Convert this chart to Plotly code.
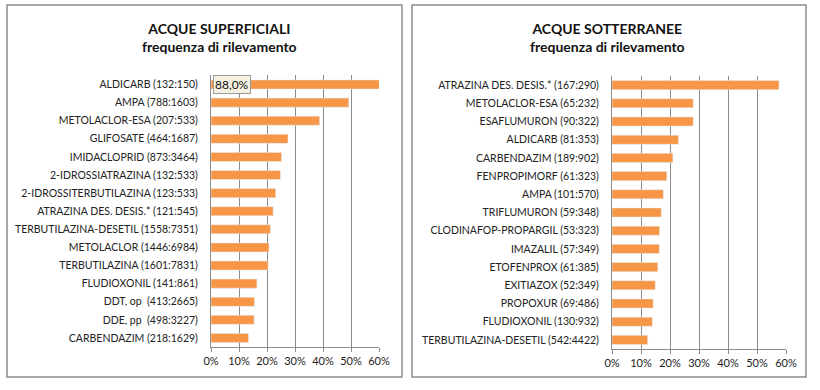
import plotly.graph_objects as go

# ---- data ----
sup_labels = [
    "ALDICARB (132:150)", "AMPA (788:1603)", "METOLACLOR-ESA (207:533)",
    "GLIFOSATE (464:1687)", "IMIDACLOPRID (873:3464)", "2-IDROSSIATRAZINA (132:533)",
    "2-IDROSSITERBUTILAZINA (123:533)", "ATRAZINA DES. DESIS.* (121:545)",
    "TERBUTILAZINA-DESETIL (1558:7351)", "METOLACLOR (1446:6984)",
    "TERBUTILAZINA (1601:7831)", "FLUDIOXONIL (141:861)", "DDT, op  (413:2665)",
    "DDE, pp  (498:3227)", "CARBENDAZIM (218:1629)",
]
sup_values = [0.880, 0.492, 0.388, 0.275, 0.252, 0.248, 0.231, 0.222,
              0.212, 0.207, 0.204, 0.164, 0.155, 0.154, 0.134]

sot_labels = [
    "ATRAZINA DES. DESIS.* (167:290)", "METOLACLOR-ESA (65:232)", "ESAFLUMURON (90:322)",
    "ALDICARB (81:353)", "CARBENDAZIM (189:902)", "FENPROPIMORF (61:323)",
    "AMPA (101:570)", "TRIFLUMURON (59:348)", "CLODINAFOP-PROPARGIL (53:323)",
    "IMAZALIL (57:349)", "ETOFENPROX (61:385)", "EXITIAZOX (52:349)",
    "PROPOXUR (69:486)", "FLUDIOXONIL (130:932)", "TERBUTILAZINA-DESETIL (542:4422)",
]
sot_values = [0.576, 0.280, 0.280, 0.229, 0.210, 0.189, 0.177, 0.170,
              0.164, 0.163, 0.158, 0.149, 0.142, 0.139, 0.123]

x_ticks = [0, 0.1, 0.2, 0.3, 0.4, 0.5, 0.6]
x_tick_text = ["0%", "10%", "20%", "30%", "40%", "50%", "60%"]

titles = ["ACQUE SUPERFICIALI<br>frequenza di rilevamento",
          "ACQUE SOTTERRANEE<br>frequenza di rilevamento"]

BAR = "#F79646"
FONT = "Lato"
W, H = 820, 390

fig = go.Figure()
fig.add_trace(go.Bar(x=sup_values, y=sup_labels, orientation="h", marker_color=BAR,
                     xaxis="x", yaxis="y", width=0.5, hoverinfo="x+y"))
fig.add_trace(go.Bar(x=sot_values, y=sot_labels, orientation="h", marker_color=BAR,
                     xaxis="x2", yaxis="y2", width=0.5, hoverinfo="x+y"))

def px_x(v):
    return v / W

def px_y(v):
    return 1 - v / H

xcommon = dict(range=[0, 0.6], tickvals=x_ticks, ticktext=x_tick_text,
               showgrid=True, gridcolor="#8c8c8c", gridwidth=1,
               showline=True, linecolor="#8c8c8c", linewidth=1,
               ticks="outside", ticklen=4, tickcolor="#8c8c8c",
               tickfont=dict(family=FONT, size=11, color="#222"),
               zeroline=False, fixedrange=True, automargin=False)
ycommon = dict(autorange="reversed", showgrid=False, showline=True,
               linecolor="#8c8c8c", linewidth=1, ticks="",
               tickfont=dict(family=FONT, size=10.5, color="#222"),
               ticklabelstandoff=10, fixedrange=True, automargin=False)

fig.update_layout(
    width=W, height=H, margin=dict(l=0, r=0, t=0, b=0),
    paper_bgcolor="white", plot_bgcolor="white", showlegend=False,
    bargap=0.5,
    xaxis=dict(domain=[px_x(211), px_x(379)], anchor="y", **xcommon),
    yaxis=dict(domain=[px_y(347), px_y(75)], anchor="x", **ycommon),
    xaxis2=dict(domain=[px_x(612), px_x(786)], anchor="y2", **xcommon),
    yaxis2=dict(domain=[px_y(349), px_y(76)], anchor="x2", **ycommon),
)

# panel borders
for x0, x1 in [(7, 402), (412, 806)]:
    fig.add_shape(type="rect", xref="paper", yref="paper",
                  x0=px_x(x0), x1=px_x(x1), y0=px_y(377), y1=px_y(5),
                  line=dict(color="#8c8c8c", width=1.5), fillcolor="rgba(0,0,0,0)")

# titles
for cx, t in [(219, titles[0]), (607, titles[1])]:
    fig.add_annotation(xref="paper", yref="paper", x=px_x(cx), y=px_y(18),
                       xanchor="center", yanchor="top", showarrow=False,
                       text=f"<b>{t}</b>", align="center",
                       font=dict(family=FONT, size=14, color="#111"))

# data label on the clipped bar
lab = f"{sup_values[0]*100:.1f}%".replace(".", ",")
fig.add_annotation(xref="x", yref="y", x=0, y=sup_labels[0], xanchor="left",
                   xshift=2, showarrow=False, text=lab,
                   font=dict(family=FONT, size=12, color="#111"),
                   bgcolor="#f4f1e1", bordercolor="#9a9a9a", borderwidth=1, borderpad=1)

fig.write_html("out.html", config={"displayModeBar": False},
               post_script="document.body.style.margin='0';document.body.style.overflow='hidden';")
